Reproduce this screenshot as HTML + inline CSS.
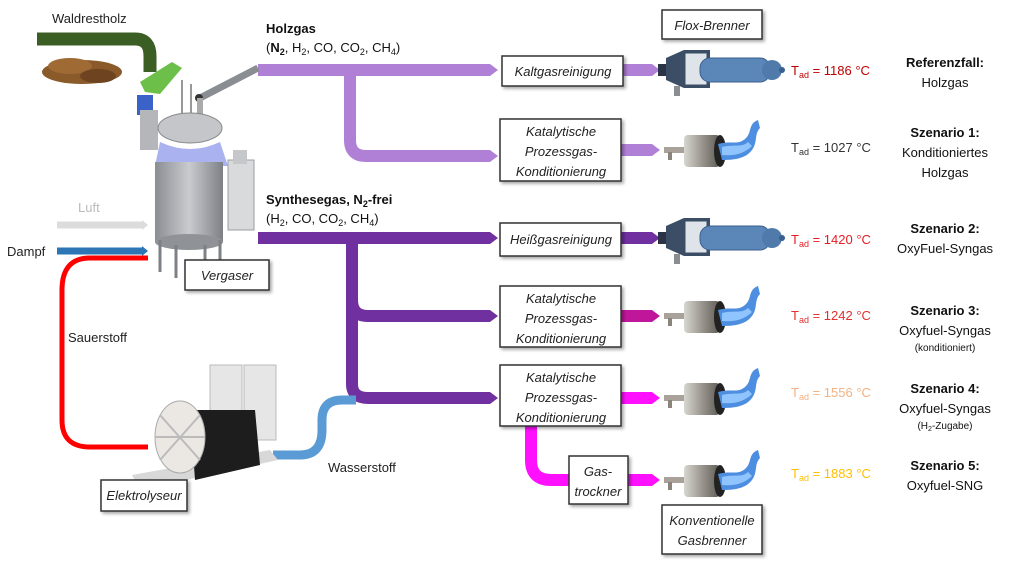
<!DOCTYPE html>
<html><head><meta charset="utf-8"><style>
html,body{margin:0;padding:0;background:#fff;}
svg{display:block;font-family:"Liberation Sans",sans-serif;}
.bx{fill:#fff;stroke:#333;stroke-width:1.5;}
.it{font-style:italic;font-size:13px;fill:#222;}
.lb{font-size:13px;fill:#222;}
</style></head><body>
<svg width="1024" height="570" viewBox="0 0 1024 570" xmlns="http://www.w3.org/2000/svg">
<defs>
<filter id="sh" x="-10%" y="-10%" width="130%" height="140%"><feDropShadow dx="2" dy="2" stdDeviation="1.5" flood-color="#000" flood-opacity="0.35"/></filter>
<linearGradient id="gc" x1="0" x2="1"><stop offset="0" stop-color="#d8d6d0"/><stop offset="0.5" stop-color="#9a968e"/><stop offset="1" stop-color="#5e5a55"/></linearGradient>
<linearGradient id="gy" x1="0" x2="1"><stop offset="0" stop-color="#8a8d92"/><stop offset="0.5" stop-color="#c9cbcf"/><stop offset="1" stop-color="#7d8085"/></linearGradient>
<g id="flox">
<rect x="-12" y="-6" width="10" height="12" fill="#2a3444"/>
<polygon points="-4,-12 14,-20 40,-20 40,18 14,18 -4,10" fill="#3c4e66"/>
<rect x="14" y="-18" width="24" height="34" fill="#dfe4ea" stroke="#3c4e66" stroke-width="3"/>
<rect x="30" y="-12" width="70" height="24" rx="10" fill="#5b86b8"/>
<rect x="30" y="-12" width="70" height="24" rx="10" fill="none" stroke="#3a5f8e" stroke-width="1"/>
<ellipse cx="102" cy="0" rx="10" ry="10" fill="#4f7aaa"/>
<circle cx="112" cy="0" r="3" fill="#3a5f8e"/>
<rect x="4" y="16" width="6" height="10" fill="#8a8d92"/>
</g>
<g id="conv">
<rect x="-18" y="-3" width="20" height="6" fill="#a8a29a"/>
<rect x="-14" y="2" width="4" height="8" fill="#8a847c"/>
<rect x="2" y="-15" width="36" height="32" rx="4" fill="url(#gc)"/>
<ellipse cx="38" cy="1" rx="6" ry="16" fill="#222"/>
<path d="M36,-6 C50,-10 56,-4 64,-12 C70,-18 66,-26 76,-30 L78,-22 C72,-16 76,-8 70,0 C64,8 54,10 40,10 Z" fill="#4d8ee0"/>
<path d="M40,-3 C52,-6 60,-2 66,-8 L70,-4 C62,4 52,6 40,5 Z" fill="#8fc4ff"/>
</g>
</defs>

<!-- Holzgas stream -->
<g fill="none" stroke="#b07fd6" stroke-width="12">
<path d="M258,70 H490"/>
<path d="M350,70 V140 Q350,156 366,156 H490"/>
<path d="M623,70 H652"/>
<path d="M621,150 H652"/>
</g>
<g fill="#b07fd6">
<polygon points="490,64 498,70 490,76"/><polygon points="490,150 498,156 490,162"/>
<polygon points="652,64 660,70 652,76"/><polygon points="652,144 660,150 652,156"/>
</g>
<!-- Synthesegas stream -->
<g fill="none" stroke="#7030a0" stroke-width="12">
<path d="M258,238 H490"/>
<path d="M352,238 V384 Q352,398 368,398 H490"/>
<path d="M352,300 Q352,316 368,316 H490"/>
<path d="M621,238 H652"/>
</g>
<g fill="#7030a0">
<polygon points="490,232 498,238 490,244"/><polygon points="490,310 498,316 490,322"/><polygon points="490,392 498,398 490,404"/>
<polygon points="652,232 660,238 652,244"/>
</g>
<path d="M621,316 H652" stroke="#c0169a" stroke-width="12"/><polygon points="652,310 660,316 652,322" fill="#c0169a"/>
<path d="M621,398 H652" stroke="#ff10ff" stroke-width="12"/><polygon points="652,392 660,398 652,404" fill="#ff10ff"/>
<path d="M531,426 V460 Q531,480 551,480 H572" fill="none" stroke="#ff10ff" stroke-width="12"/>
<path d="M628,480 H652" stroke="#ff10ff" stroke-width="12"/><polygon points="652,474 660,480 652,486" fill="#ff10ff"/>

<!-- Left inputs -->
<path d="M37,39 H135 Q150,39 150,56 V72" fill="none" stroke="#3b5e25" stroke-width="13"/>
<text x="52" y="23" class="lb">Waldrestholz</text>
<g fill="#8b5a2b"><ellipse cx="82" cy="72" rx="40" ry="12"/><ellipse cx="70" cy="66" rx="22" ry="8" fill="#a06a35"/><ellipse cx="98" cy="76" rx="18" ry="7" fill="#6e4420"/></g>
<path d="M57,225 H142" stroke="#dcdcdc" stroke-width="7"/><polygon points="142,220 148,225 142,230" fill="#dcdcdc"/>
<text x="78" y="212" class="lb" fill="#bbb" style="fill:#bbb">Luft</text>
<path d="M57,251 H142" stroke="#2e75b6" stroke-width="7"/><polygon points="142,246 148,251 142,256" fill="#2e75b6"/>
<text x="7" y="256" class="lb">Dampf</text>
<path d="M148,258 H90 Q62,258 62,290 V420 Q62,447 90,447 H148" fill="none" stroke="#ff0000" stroke-width="5"/>
<text x="68" y="342" class="lb">Sauerstoff</text>
<path d="M273,455 H300 Q322,455 322,430 V420 Q322,400 342,400 H356" fill="none" stroke="#5b9bd5" stroke-width="9"/>
<text x="328" y="472" class="lb">Wasserstoff</text>

<!-- Gasifier drawing -->
<path d="M200,98 L258,68" stroke="#8a8d92" stroke-width="7"/>
<circle cx="199" cy="98" r="4" fill="#333"/>
<rect x="197" y="98" width="6" height="22" fill="#aaa"/>
<polygon points="140,82 172,62 182,68 160,94 145,92" fill="#6cc04a"/>
<rect x="137" y="95" width="16" height="20" fill="#3a62c8"/>
<rect x="140" y="110" width="18" height="40" fill="#b4b6ba"/>
<rect x="181" y="80" width="2" height="40" fill="#999"/><rect x="190" y="84" width="2" height="36" fill="#999"/>
<ellipse cx="190" cy="128" rx="32" ry="15" fill="#c4c6ca" stroke="#888"/>
<path d="M160,142 Q190,156 220,142 L228,166 H155 Z" fill="#aab2f0"/>
<rect x="155" y="162" width="68" height="80" fill="url(#gy)"/>
<ellipse cx="189" cy="242" rx="34" ry="8" fill="#8f9297"/>
<g stroke="#7d8085" stroke-width="3"><path d="M160,240 V272"/><path d="M176,245 V278"/><path d="M205,245 V278"/><path d="M220,240 V270"/></g>
<rect x="228" y="160" width="26" height="70" fill="#d9dadc" stroke="#9a9ca0"/>
<rect x="233" y="150" width="14" height="14" fill="#c5c7ca"/>

<!-- Electrolyser drawing -->
<polygon points="132,475 270,450 278,460 140,490" fill="#d8d8d8"/>
<rect x="210" y="365" width="32" height="75" fill="#e6e6e6" stroke="#bbb"/>
<rect x="244" y="365" width="32" height="75" fill="#e6e6e6" stroke="#bbb"/>
<polygon points="190,410 255,410 260,465 195,480" fill="#1d1d1d"/>
<ellipse cx="180" cy="437" rx="25" ry="36" fill="#ebe8e4" stroke="#aaa"/>
<g stroke="#bbb" stroke-width="2"><path d="M160,415 L200,460"/><path d="M160,460 L200,415"/><path d="M155,437 H205"/></g>

<!-- Boxes -->
<g filter="url(#sh)">
<rect class="bx" x="185" y="260" width="84" height="30"/>
<rect class="bx" x="101" y="480" width="86" height="31"/>
<rect class="bx" x="502" y="56" width="121" height="30"/>
<rect class="bx" x="500" y="119" width="121" height="62"/>
<rect class="bx" x="500" y="223" width="121" height="33"/>
<rect class="bx" x="500" y="286" width="121" height="61"/>
<rect class="bx" x="500" y="365" width="121" height="61"/>
<rect class="bx" x="569" y="456" width="59" height="48"/>
<rect class="bx" x="662" y="10" width="100" height="29"/>
<rect class="bx" x="662" y="505" width="100" height="49"/>
</g>
<g class="it" text-anchor="middle">
<text x="227" y="280">Vergaser</text>
<text x="144" y="500">Elektrolyseur</text>
<text x="563" y="76">Kaltgasreinigung</text>
<text x="561" y="136">Katalytische</text><text x="561" y="156">Prozessgas-</text><text x="561" y="176">Konditionierung</text>
<text x="561" y="244">Heißgasreinigung</text>
<text x="561" y="303">Katalytische</text><text x="561" y="323">Prozessgas-</text><text x="561" y="343">Konditionierung</text>
<text x="561" y="382">Katalytische</text><text x="561" y="402">Prozessgas-</text><text x="561" y="422">Konditionierung</text>
<text x="598" y="476">Gas-</text><text x="598" y="496">trockner</text>
<text x="712" y="30">Flox-Brenner</text>
<text x="712" y="525">Konventionelle</text><text x="712" y="545">Gasbrenner</text>
</g>

<!-- Gas labels -->
<text x="266" y="33" font-size="13" font-weight="bold" fill="#111">Holzgas</text>
<text x="266" y="52" font-size="13" fill="#111">(<tspan font-weight="bold">N<tspan font-size="9" dy="3">2</tspan></tspan><tspan dy="-3">, H</tspan><tspan font-size="9" dy="3">2</tspan><tspan dy="-3">, CO, CO</tspan><tspan font-size="9" dy="3">2</tspan><tspan dy="-3">, CH</tspan><tspan font-size="9" dy="3">4</tspan><tspan dy="-3">)</tspan></text>
<text x="266" y="204" font-size="13" font-weight="bold" fill="#111">Synthesegas, N<tspan font-size="9" dy="3">2</tspan><tspan dy="-3">-frei</tspan></text>
<text x="266" y="223" font-size="13" fill="#111">(H<tspan font-size="9" dy="3">2</tspan><tspan dy="-3">, CO, CO</tspan><tspan font-size="9" dy="3">2</tspan><tspan dy="-3">, CH</tspan><tspan font-size="9" dy="3">4</tspan><tspan dy="-3">)</tspan></text>

<!-- Burners -->
<use href="#flox" x="670" y="70"/>
<use href="#flox" x="670" y="238"/>
<use href="#conv" x="682" y="150"/>
<use href="#conv" x="682" y="316"/>
<use href="#conv" x="682" y="398"/>
<use href="#conv" x="682" y="480"/>

<!-- Temperatures -->
<g font-size="13">
<text x="791" y="75" fill="#c00000">T<tspan font-size="9" dy="3">ad</tspan><tspan dy="-3"> = 1186 °C</tspan></text>
<text x="791" y="152" fill="#333">T<tspan font-size="9" dy="3">ad</tspan><tspan dy="-3"> = 1027 °C</tspan></text>
<text x="791" y="244" fill="#e81c24">T<tspan font-size="9" dy="3">ad</tspan><tspan dy="-3"> = 1420 °C</tspan></text>
<text x="791" y="320" fill="#e03030">T<tspan font-size="9" dy="3">ad</tspan><tspan dy="-3"> = 1242 °C</tspan></text>
<text x="791" y="397" fill="#f4b183">T<tspan font-size="9" dy="3">ad</tspan><tspan dy="-3"> = 1556 °C</tspan></text>
<text x="791" y="478" fill="#ffc000">T<tspan font-size="9" dy="3">ad</tspan><tspan dy="-3"> = 1883 °C</tspan></text>
</g>
<!-- Scenario labels -->
<g text-anchor="middle" font-size="13" fill="#111">
<text x="945" y="67" font-weight="bold">Referenzfall:</text><text x="945" y="87">Holzgas</text>
<text x="945" y="137" font-weight="bold">Szenario 1:</text><text x="945" y="157">Konditioniertes</text><text x="945" y="177">Holzgas</text>
<text x="945" y="233" font-weight="bold">Szenario 2:</text><text x="945" y="253">OxyFuel-Syngas</text>
<text x="945" y="315" font-weight="bold">Szenario 3:</text><text x="945" y="335">Oxyfuel-Syngas</text><text x="945" y="351" font-size="10">(konditioniert)</text>
<text x="945" y="393" font-weight="bold">Szenario 4:</text><text x="945" y="413">Oxyfuel-Syngas</text><text x="945" y="429" font-size="10">(H<tspan font-size="7" dy="2">2</tspan><tspan dy="-2">-Zugabe)</tspan></text>
<text x="945" y="470" font-weight="bold">Szenario 5:</text><text x="945" y="490">Oxyfuel-SNG</text>
</g>
</svg>
</body></html>
